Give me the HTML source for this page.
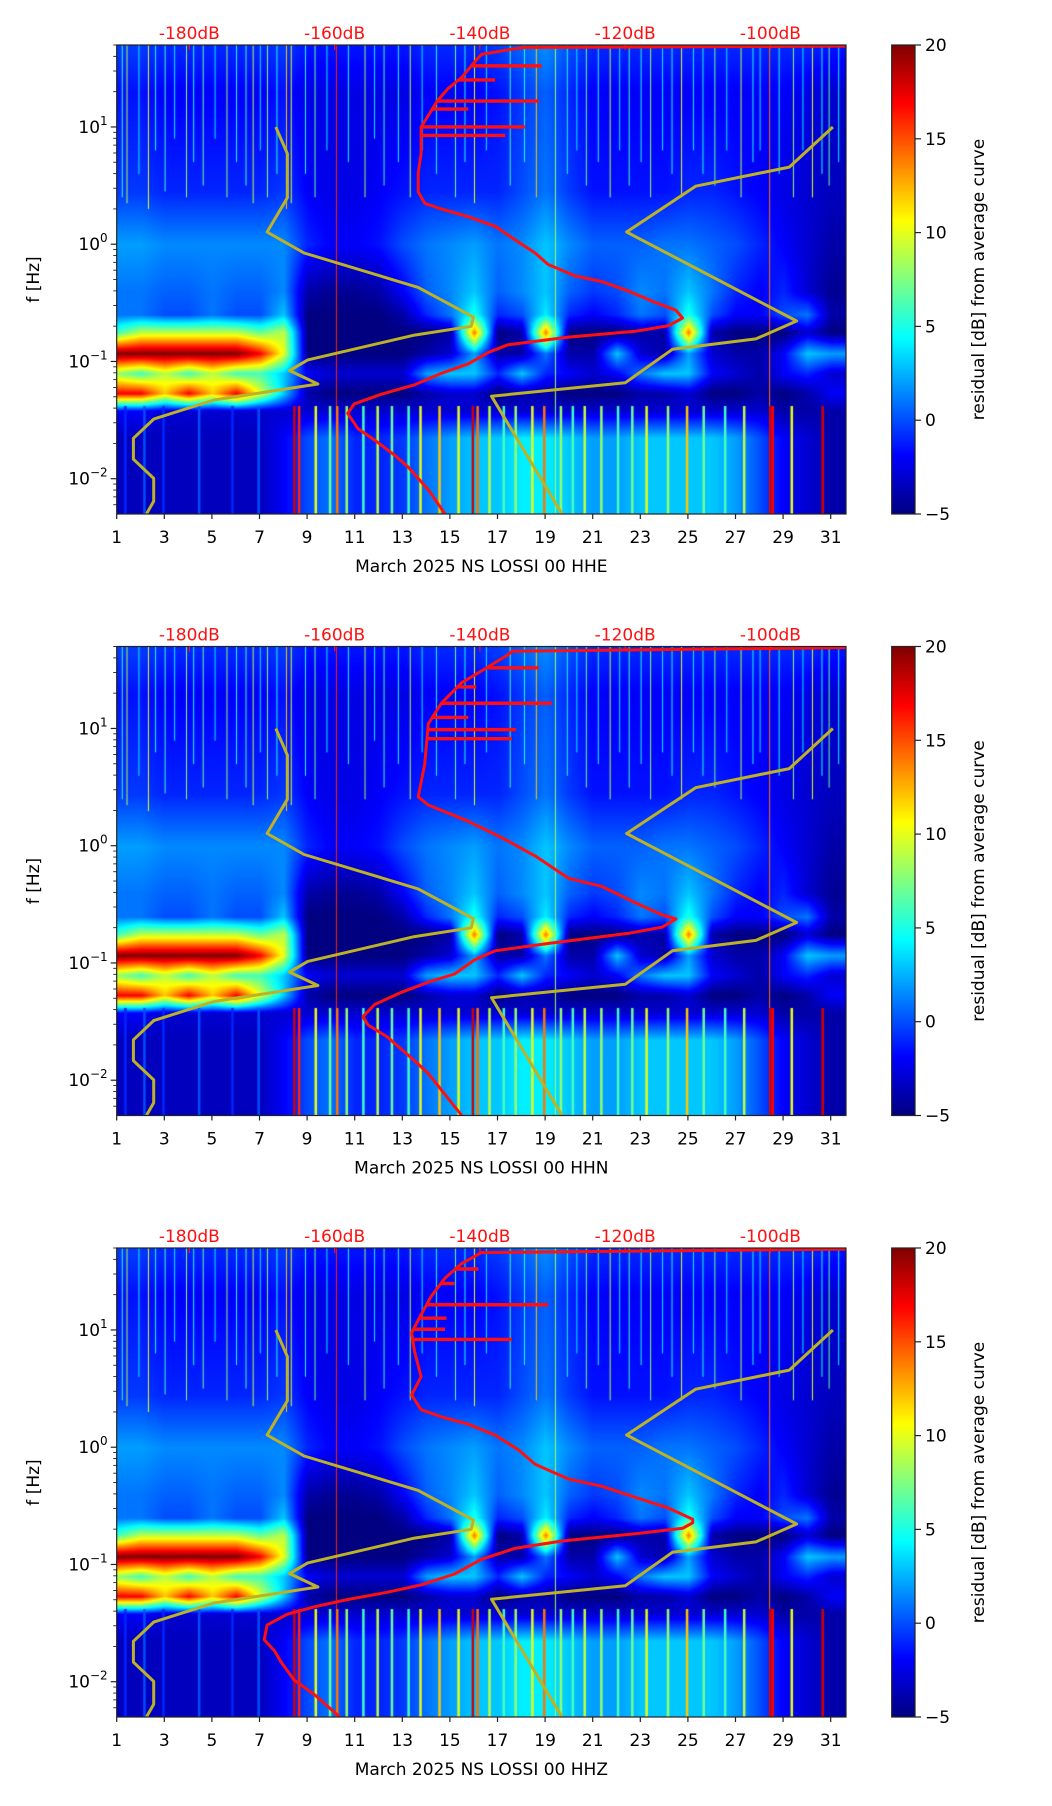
<!DOCTYPE html>
<html><head><meta charset="utf-8">
<style>
body{margin:0;background:#fff;}
#root{position:relative;width:1052px;height:1806px;background:#fff;overflow:hidden;font-family:"DejaVu Sans","Liberation Sans",sans-serif;}
canvas{position:absolute;}
svg{position:absolute;left:0;top:0;}
</style></head>
<body>
<div id="root">
<svg id="svg" width="1052" height="1806"></svg>
</div>
<script>
// ---------- data ----------
const dayTicks = [1,3,5,7,9,11,13,15,17,19,21,23,25,27,29,31];
const dbTicks = [-180,-160,-140,-120,-100];
const dbTickLabels = ["-180dB","-160dB","-140dB","-120dB","-100dB"];
const freqTickExp = [1,0,-1,-2];
const cbarTicks = [20,15,10,5,0,-5];
const panelTitles = ["March 2025 NS LOSSI 00 HHE","March 2025 NS LOSSI 00 HHN","March 2025 NS LOSSI 00 HHZ"];

// heatmap band profiles per day (days 1..31), residual dB
const bandTop    = [-0.5,-0.5,-1,-1,-1,-1,-1,-0.5,-1.5,-1.5,-1.5,-1.5,-1.5,-1,-1,-1,-0.5,0.5,1.5,0,-1,-1,-1,-1,-1,-1,-1,-1,-1,-1,-1.5];
const bandHigh   = [-1.5,-1.5,-2,-2,-2,-2,-2,-1.5,-2.5,-2.5,-2.5,-2.5,-2.5,-2,-2,-2,-1.5,-0.5,0.5,-1,-2,-2,-2,-2,-2,-2,-2,-2,-2,-2.5,-3];
const bandHigh2  = [-0.5,-0.5,-1,-1,-1,-1,-1,-0.5,-2,-2.5,-2.5,-2,-1.5,-1,-1,-1,-1,0,1,-0.5,-1.5,-1.5,-1.5,-1.5,-1,-1,-1.5,-2,-2.5,-3,-3.5];
const bandMid    = [2,2,1.5,1.5,1.5,1.5,1.5,1.5,-1,-2,-2,-1.5,0,1,1.5,2,1,1.5,3,1.5,0.5,0.5,0.5,1,1,0.5,0,-1,-2,-3,-4];
const bandMid2   = [1,1,0.5,0.5,1,0.5,0.5,1.5,-4,-4.5,-4.5,-4,-2,0.5,1.5,3,0.5,1.5,3,0.5,-0.5,0,1.5,1,3,1,-1,-2,-1,-3,-4.5];
const bandMidLow = [1,1,0,0,1,0,0,3,-5,-5,-5,-5,-4,-1,1,5,-1,0,4,-1,-2,-1,1,0,5,0,-2,-2,0,1,-4];
const bandGap    = [6,9,9,9,9,9,7,9,-5,-5,-5,-5,-5,-5,-4,14,-5,-4,14,-5,-5,-5,-4,-4,14,-4,-5,-5,-5,-3,-5];
const bandMicro1 = [20,20,20,20,20,20,17,10,-5,-5,-5,-5,-5,-4,-3,2,-4,-4,1,-4,-4,3,-3,-4,2,-3,-4,-4,-2,3,2];
const bandBetween= [8,6,9,6,9,6,6,3,-2,-3,-3,-3,-3,2,3,3,-1,3,-1,-2,-3,-2,1,3,3,-2,-3,-4,-2,-1,-3];
const bandMicro2 = [17,17,12,17,12,17,10,3,-4,-5,-5,-5,-5,-4,-3,-3,-5,-4,-4,-5,-5,-5,-4,-4,-3,-5,-5,-4,-5,-4,-2];
const bandBelow  = [-2,-2,-3,-3,-3,-3,-3,-3,-3,-3,-3,-3,-3,-3,-3,-3,-3,-3,-3,-3,-3,-3,-3,-3,-3,-3,-3,-3,-4,-4,-4];
const bandLow    = [-3.5,-3.5,-3.5,-3.5,-3.5,-3.5,-3.5,-2,0,1,-1,-1,-0.5,1,2,3,3,4,4,3,2,2,3,3,3,3,2,0,-2,-3,-4];
const bandLogf   = [1.65,1.3,0.45,0.0,-0.4,-0.6,-0.75,-0.93,-1.1,-1.27,-1.42,-1.65,-2.3];

// vertical stripes [day]
const upStripeDays = [1.2,1.4,1.9,2.3,2.6,3.0,3.4,3.9,4.2,4.6,5.1,5.6,6.0,6.4,6.7,7.0,7.3,7.7,8.1,8.3,8.9,9.3,9.8,10.2,10.7,11.4,11.8,12.2,12.8,13.3,13.8,14.4,15.2,15.6,16.0,16.5,17.5,18.1,18.6,19.4,19.9,20.3,20.7,21.2,21.7,22.1,22.5,23.0,23.4,23.9,24.3,24.7,25.2,25.6,26.1,26.6,27.2,27.7,28.0,28.4,28.8,29.4,29.8,30.2,30.6,30.9,31.3];
const upStripeVals = [6,9,4,10,5,6,4,8,5,7,4,8,5,6,9,4,8,5,12,10,5,7,4,16,5,8,4,6,5,9,4,5,7,5,10,4,6,5,12,8,5,4,7,5,9,4,6,5,8,4,5,10,4,5,7,4,9,5,4,14,5,8,4,10,5,7,4];
const upStripeEnds = [0.4,0.35,0.6,0.3,0.8,0.45,0.9,0.4,0.7,0.5,0.9,0.4,0.7,0.5,0.35,0.8,0.4,0.6,0.3,0.35,0.6,0.4,0.8,-2.3,0.7,0.4,0.9,0.5,0.7,0.4,0.8,0.6,0.4,0.7,0.35,0.8,0.5,0.7,0.4,-2.3,0.6,0.8,0.5,0.7,0.4,0.8,0.5,0.7,0.4,0.8,0.6,0.4,0.8,0.6,0.5,0.8,0.4,0.7,0.8,-2.3,0.6,0.4,0.8,0.4,0.6,0.5,0.7];
const lowStripeDays = [1.3,2.1,2.9,4.4,5.8,6.9,8.4,8.6,9.3,9.9,10.2,10.6,11.3,11.9,12.5,13.2,13.7,14.5,15.3,15.9,16.1,16.6,17.2,17.7,18.4,18.9,19.6,20.1,20.6,21.3,22.0,22.6,23.2,24.1,24.9,25.6,26.5,27.3,28.4,28.5,29.3,30.6];
const lowStripeVals = [-1,0,-1,0,-1,0,18,16,10,7,14,8,6,9,7,6,10,12,10,18,14,9,6,8,10,14,8,6,9,8,6,7,10,8,12,7,6,9,18,17,10,18];

// Peterson noise models (dB vs log10 f)
const nlnmLogf = [1.0,0.772,0.397,0.104,-0.075,-0.368,-0.622,-0.700,-0.775,-0.987,-1.078,-1.192,-1.329,-1.492,-1.655,-1.834,-1.997,-2.192,-2.30];
const nlnmDb   = [-168.1,-166.5,-166.5,-169.3,-164.2,-148.5,-140.9,-141.2,-149.0,-163.7,-166.2,-162.3,-176.6,-184.9,-187.7,-187.7,-184.9,-184.9,-185.9];
const nhnmLogf = [1.0,0.658,0.495,0.104,-0.655,-0.808,-0.896,-1.182,-1.296,-2.30];
const nhnmDb   = [-91.4,-97.4,-110.3,-119.8,-96.4,-102.0,-113.5,-120.0,-138.4,-128.7];

// median PSD curves per channel
const redLogfE = [1.69,1.678,1.658,1.619,1.521,1.423,1.326,1.228,1.098,1.0,0.772,0.609,0.446,0.349,0.300,0.235,0.153,0.039,-0.075,-0.173,-0.270,-0.319,-0.401,-0.498,-0.564,-0.629,-0.694,-0.743,-0.792,-0.857,-0.922,-1.020,-1.101,-1.199,-1.280,-1.362,-1.443,-1.573,-1.671,-1.801,-1.899,-2.094,-2.30];
const redDbE   = [-89.6,-134,-136.1,-139.8,-141.2,-142.5,-144.4,-145.8,-147.1,-148.1,-148.1,-148.5,-148.5,-147.6,-145.3,-141.6,-137.9,-135.2,-132.4,-130.6,-126.9,-123.2,-119.5,-115.8,-113.0,-112.1,-114.0,-118.6,-127.8,-136.1,-138.8,-141.6,-145.3,-149.0,-153.6,-157.3,-158.2,-156.8,-154.5,-151.7,-149.9,-147.1,-144.8];
const spurLogfE = [1.521,1.401,1.221,1.153,1.0,0.928];
const spurDbE   = [-131.5,-137.9,-131.9,-141.6,-133.8,-136.5];

const redLogfN = [1.69,1.658,1.63,1.49,1.39,1.215,1.04,0.694,0.417,0.347,0.208,0.069,-0.087,-0.278,-0.347,-0.486,-0.59,-0.625,-0.694,-0.747,-0.833,-0.896,-0.972,-1.094,-1.163,-1.25,-1.354,-1.458,-1.528,-1.632,-1.736,-1.84,-1.944,-2.30];
const redDbN   = [-89.6,-135.6,-136.1,-139.8,-142.5,-145.3,-147.1,-147.6,-148.5,-147.1,-141.6,-137.0,-132.4,-127.8,-123.2,-118.6,-114.9,-113.0,-114.9,-119.5,-130.5,-137.9,-140.7,-143.5,-147.1,-150.8,-154.5,-156.1,-155.4,-152.7,-150.8,-148.9,-147.1,-142.5];
const spurLogfN = [1.517,1.354,1.215,1.094,0.99,0.913];
const spurDbN   = [-131.9,-140.5,-130.1,-141.6,-135.0,-135.6];

const redLogfZ = [1.69,1.66,1.567,1.442,1.287,1.131,0.975,0.819,0.601,0.445,0.32,0.259,0.196,0.103,-0.022,-0.146,-0.271,-0.333,-0.427,-0.52,-0.614,-0.645,-0.692,-0.738,-0.8,-0.863,-0.956,-1.081,-1.174,-1.237,-1.299,-1.361,-1.424,-1.517,-1.642,-1.735,-1.829,-1.984,-2.109,-2.30];
const redDbZ   = [-89.6,-139.8,-142.5,-144.8,-146.7,-148.1,-149.4,-149.0,-148.1,-149.4,-148.1,-145.3,-141.6,-137.9,-134.7,-132.4,-127.8,-123.2,-118.6,-114.0,-110.7,-110.7,-112.1,-118.6,-128.7,-135.2,-139.8,-143.5,-148.1,-152.7,-158.2,-162.8,-166.5,-169.3,-169.7,-168.3,-167.4,-165.6,-162.8,-159.3];
const spurLogfZ = [1.52,1.396,1.215,1.1,1.006,0.919];
const spurDbZ   = [-140.2,-143.5,-130.6,-144.6,-144.8,-135.6];

const redLogfs = [redLogfE, redLogfN, redLogfZ];
const redDbs = [redDbE, redDbN, redDbZ];
const spurLogfs = [spurLogfE, spurLogfN, spurLogfZ];
const spurDbs = [spurDbE, spurDbN, spurDbZ];

// ---------- layout ----------
const PL = 116.7, PW = 729.3, PH = 469;
const panelTops = [45, 646.5, 1248];
const DAY0 = 1, PX_PER_DAY = 23.8;
const DB0 = -190, PX_PER_DB = 7.264;
const LF_TOP = 1.699, LF_BOT = -2.301;
const CBX = 891.7, CBW = 23.3;
const VMIN = -5, VMAX = 20;

function xDay(d){ return PL + (d - DAY0) * PX_PER_DAY; }
function xDb(db){ return PL + (db - DB0) * PX_PER_DB; }
function yLf(top, lf){ return top + (LF_TOP - lf) / (LF_TOP - LF_BOT) * PH; }
function jet(t){
  t = Math.max(0, Math.min(1, t));
  const c = v => Math.max(0, Math.min(1, v));
  return [c(1.5 - Math.abs(4*t - 3)), c(1.5 - Math.abs(4*t - 2)), c(1.5 - Math.abs(4*t - 1))];
}
function jetCss(v){ const c = jet((v - VMIN)/(VMAX - VMIN)); return `rgb(${Math.round(c[0]*255)},${Math.round(c[1]*255)},${Math.round(c[2]*255)})`; }
function dayVal(arr, d){
  const i = Math.max(0, Math.min(arr.length - 1, d - 1));
  const i0 = Math.floor(i), i1 = Math.min(arr.length - 1, i0 + 1), f = i - i0;
  return arr[i0]*(1-f) + arr[i1]*f;
}
const bands = [bandTop, bandHigh, bandHigh2, bandMid, bandMid2, bandMidLow, bandGap, bandMicro1, bandBetween, bandMicro2, bandBelow, bandLow, bandLow];
function fieldVal(d, lf){
  if (lf >= bandLogf[0]) return dayVal(bands[0], d);
  for (let k = 0; k < bandLogf.length - 1; k++){
    if (lf <= bandLogf[k] && lf >= bandLogf[k+1]){
      const f = (bandLogf[k] - lf) / (bandLogf[k] - bandLogf[k+1]);
      return dayVal(bands[k], d)*(1-f) + dayVal(bands[k+1], d)*f;
    }
  }
  return dayVal(bands[bands.length-1], d);
}

const root = document.getElementById('root');
const svg = document.getElementById('svg');
const NS = 'http://www.w3.org/2000/svg';
function mk(tag, attrs, parent){
  const e = document.createElementNS(NS, tag);
  for (const k in attrs) e.setAttribute(k, attrs[k]);
  (parent || svg).appendChild(e);
  return e;
}
function pathFrom(top, lfs, dbs){
  return lfs.map((lf, i) => (i ? 'L' : 'M') + xDb(dbs[i]).toFixed(1) + ',' + yLf(top, lf).toFixed(1)).join(' ');
}
function interpDb(lfs, dbs, lf){
  for (let i = 0; i < lfs.length - 1; i++){
    if (lf <= lfs[i] && lf >= lfs[i+1]){
      const f = (lfs[i] - lf) / (lfs[i] - lfs[i+1] || 1);
      return dbs[i]*(1-f) + dbs[i+1]*f;
    }
  }
  return dbs[dbs.length-1];
}

panelTops.forEach((top, p) => {
  const cv = document.createElement('canvas');
  cv.width = Math.round(PW); cv.height = PH;
  cv.style.left = PL + 'px'; cv.style.top = top + 'px';
  
  
  root.insertBefore(cv, svg);
  const ctx = cv.getContext('2d');
  const img = ctx.createImageData(cv.width, cv.height);
  for (let y = 0; y < cv.height; y++){
    const lf = LF_TOP - (y / PH) * (LF_TOP - LF_BOT);
    for (let x = 0; x < cv.width; x++){
      const d = DAY0 + x / PX_PER_DAY;
      const c = jet((fieldVal(d, lf) - VMIN) / (VMAX - VMIN));
      const o = (y*cv.width + x)*4;
      img.data[o] = c[0]*255; img.data[o+1] = c[1]*255; img.data[o+2] = c[2]*255; img.data[o+3] = 255;
    }
  }
  ctx.putImageData(img, 0, 0);
  upStripeDays.forEach((d, i) => {
    ctx.fillStyle = jetCss(upStripeVals[i]);
    const x = xDay(d) - PL;
    ctx.fillRect(x, 0, 1, yLf(0, upStripeEnds[i]));
  });
  lowStripeDays.forEach((d, i) => {
    ctx.fillStyle = jetCss(lowStripeVals[i]);
    const x = xDay(d) - PL;
    const y0 = yLf(0, -1.38);
    ctx.fillRect(x, y0, 2.5, PH - y0);
  });

  const g = mk('g', {});
  
  
  const clipId = 'clip' + p;
  const cp = mk('clipPath', {id: clipId}, g);
  mk('rect', {x: PL, y: top, width: PW, height: PH}, cp);
  const lines = mk('g', {'clip-path': `url(#${clipId})`, fill: 'none', 'stroke-linejoin': 'round'}, g);
  const lo = mk('path', {d: pathFrom(top, nlnmLogf, nlnmDb), stroke: '#bdb226', 'stroke-width': 3}, lines);
   
  const hi = mk('path', {d: pathFrom(top, nhnmLogf, nhnmDb), stroke: '#bdb226', 'stroke-width': 3}, lines);
   
  const rc = mk('path', {d: pathFrom(top, redLogfs[p], redDbs[p]), stroke: '#ff1010', 'stroke-width': 3}, lines);
   
  spurLogfs[p].forEach((lf, i) => {
    const x0 = xDb(interpDb(redLogfs[p], redDbs[p], lf));
    const s = mk('line', {x1: x0, x2: xDb(spurDbs[p][i]), y1: yLf(top, lf), y2: yLf(top, lf), stroke: '#ff1010', 'stroke-width': 3.4}, lines);
     
  });
  mk('rect', {x: PL, y: top, width: PW, height: PH, fill: 'none', stroke: '#222', 'stroke-width': 1.2}, g);
  dayTicks.forEach(d => {
    const x = xDay(d);
    mk('line', {x1: x, x2: x, y1: top + PH, y2: top + PH + 5, stroke: '#222', 'stroke-width': 1.2}, g);
    const t = mk('text', {x: x, y: top + PH + 29, 'text-anchor': 'middle', 'font-size': 17, fill: '#000'}, g);
    t.textContent = d;
     
  });
  const xl = mk('text', {x: PL + PW/2, y: top + PH + 58, 'text-anchor': 'middle', 'font-size': 17, fill: '#000'}, g);
  xl.textContent = panelTitles[p];
   
  dbTicks.forEach((db, i) => {
    const x = xDb(db);
    mk('line', {x1: x, x2: x, y1: top, y2: top + 5, stroke: '#ff1010', 'stroke-width': 1.2}, g);
    const t = mk('text', {x: x, y: top - 6, 'text-anchor': 'middle', 'font-size': 17, fill: '#ff1010'}, g);
    t.textContent = dbTickLabels[i];
     
  });
  freqTickExp.forEach(e => {
    const y = yLf(top, e);
    mk('line', {x1: PL - 6, x2: PL, y1: y, y2: y, stroke: '#222', 'stroke-width': 1.2}, g);
    const t = mk('text', {x: PL - 9, y: y + 6, 'text-anchor': 'end', 'font-size': 17, fill: '#000'}, g);
    t.innerHTML = '10<tspan dy="-8" font-size="12">' + (e < 0 ? '\u2212' + (-e) : e) + '</tspan>';
     
  });
  for (let e = -3; e <= 1; e++){
    for (let m = 2; m <= 9; m++){
      const lf = e + Math.log10(m);
      if (lf > LF_TOP || lf < LF_BOT) continue;
      const y = yLf(top, lf);
      mk('line', {x1: PL - 3.5, x2: PL, y1: y, y2: y, stroke: '#222', 'stroke-width': 0.9}, g);
    }
  }
  const yl = mk('text', {x: 0, y: 0, transform: `translate(39,${top + PH/2}) rotate(-90)`, 'text-anchor': 'middle', 'font-size': 17, fill: '#000'}, g);
  yl.textContent = 'f [Hz]';
   
  const gid = 'cbg' + p;
  const defs = mk('defs', {}, g);
  const lg = mk('linearGradient', {id: gid, x1: 0, y1: 1, x2: 0, y2: 0}, defs);
  for (let k = 0; k <= 16; k++){
    mk('stop', {offset: k/16, 'stop-color': jetCss(VMIN + (VMAX-VMIN)*k/16)}, lg);
  }
  const cb = mk('rect', {x: CBX, y: top, width: CBW, height: PH, fill: `url(#${gid})`, stroke: '#222', 'stroke-width': 1.2}, g);
   
  cbarTicks.forEach(v => {
    const y = top + (VMAX - v) / (VMAX - VMIN) * PH;
    mk('line', {x1: CBX + CBW, x2: CBX + CBW + 6, y1: y, y2: y, stroke: '#222', 'stroke-width': 1.2}, g);
    const t = mk('text', {x: CBX + CBW + 10, y: y + 6, 'font-size': 17, fill: '#000'}, g);
    t.textContent = v < 0 ? '\u2212' + (-v) : String(v);
     
  });
  const cl = mk('text', {x: 0, y: 0, transform: `translate(984,${top + PH/2}) rotate(-90)`, 'text-anchor': 'middle', 'font-size': 17, fill: '#000'}, g);
  cl.textContent = 'residual [dB] from average curve';
   
});
</script>
</body></html>
